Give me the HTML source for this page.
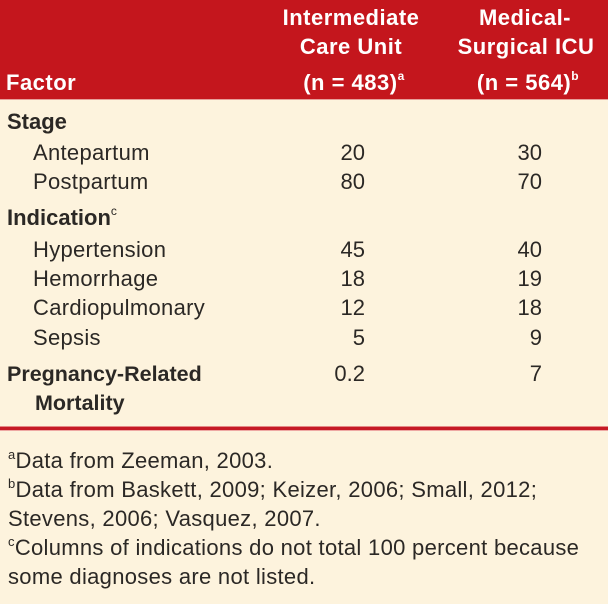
<!DOCTYPE html>
<html>
<head>
<meta charset="utf-8">
<style>
  html, body { margin: 0; padding: 0; background: #fdf3dd; }
  svg { display: block; }
  text { font-family: "Liberation Sans", Arial, sans-serif; }
</style>
</head>
<body>
<svg width="608" height="604" viewBox="0 0 608 604" xmlns="http://www.w3.org/2000/svg">
  <rect x="0" y="0" width="608" height="604" fill="#fdf3dd"/>
  <rect x="0" y="0" width="608" height="99" fill="#c4161d"/>
  <rect x="0" y="99" width="608" height="1" fill="#e7a09a"/>

  <!-- Header -->
  <g fill="#ffffff" font-size="22" font-weight="700" letter-spacing="0.5">
    <text x="6" y="90">Factor</text>
    <text x="351" y="25" text-anchor="middle">Intermediate</text>
    <text x="351" y="54" text-anchor="middle">Care Unit</text>
    <text x="354" y="90" text-anchor="middle">(n = 483)<tspan font-size="12" dy="-10">a</tspan></text>
    <text x="525" y="25" text-anchor="middle">Medical-</text>
    <text x="526" y="54" text-anchor="middle">Surgical ICU</text>
    <text x="528" y="90" text-anchor="middle">(n = 564)<tspan font-size="12" dy="-10">b</tspan></text>
  </g>

  <!-- Body -->
  <g fill="#2b2825" font-size="22">
    <text x="7" y="129" font-weight="700">Stage</text>
    <text x="33" y="160" letter-spacing="0.3">Antepartum</text>
    <text x="365" y="160" text-anchor="end">20</text>
    <text x="542" y="160" text-anchor="end">30</text>

    <text x="33" y="189" letter-spacing="0.3">Postpartum</text>
    <text x="365" y="189" text-anchor="end">80</text>
    <text x="542" y="189" text-anchor="end">70</text>

    <text x="7" y="225" font-weight="700">Indication<tspan font-size="12" font-weight="400" dy="-10">c</tspan></text>

    <text x="33" y="257" letter-spacing="0.3">Hypertension</text>
    <text x="365" y="257" text-anchor="end">45</text>
    <text x="542" y="257" text-anchor="end">40</text>

    <text x="33" y="286" letter-spacing="0.3">Hemorrhage</text>
    <text x="365" y="286" text-anchor="end">18</text>
    <text x="542" y="286" text-anchor="end">19</text>

    <text x="33" y="315" letter-spacing="0.3">Cardiopulmonary</text>
    <text x="365" y="315" text-anchor="end">12</text>
    <text x="542" y="315" text-anchor="end">18</text>

    <text x="33" y="345" letter-spacing="0.3">Sepsis</text>
    <text x="365" y="345" text-anchor="end">5</text>
    <text x="542" y="345" text-anchor="end">9</text>

    <text x="7" y="381" font-weight="700" font-size="21.5">Pregnancy-Related</text>
    <text x="365" y="381" text-anchor="end">0.2</text>
    <text x="542" y="381" text-anchor="end">7</text>
    <text x="35" y="410" font-weight="700" font-size="21.5">Mortality</text>
  </g>

  <!-- Rule -->
  <rect x="0" y="426" width="608" height="1" fill="#e58a86"/>
  <rect x="0" y="427" width="608" height="3" fill="#c61a25"/>
  <rect x="0" y="430" width="608" height="1" fill="#eea8a3"/>

  <!-- Footnotes -->
  <g fill="#2b2825" font-size="22" letter-spacing="0.3">
    <text x="8" y="468"><tspan font-size="13" dy="-9">a</tspan><tspan dy="9">Data from Zeeman, 2003.</tspan></text>
    <text x="8" y="497"><tspan font-size="13" dy="-9">b</tspan><tspan dy="9">Data from Baskett, 2009; Keizer, 2006; Small, 2012;</tspan></text>
    <text x="8" y="526">Stevens, 2006; Vasquez, 2007.</text>
    <text x="8" y="555"><tspan font-size="13" dy="-9">c</tspan><tspan dy="9">Columns of indications do not total 100 percent because</tspan></text>
    <text x="8" y="584">some diagnoses are not listed.</text>
  </g>
</svg>
</body>
</html>
